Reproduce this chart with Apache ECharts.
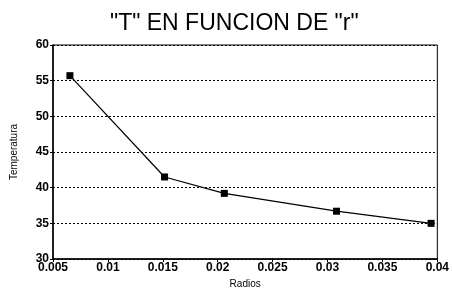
<!DOCTYPE html>
<html>
<head>
<meta charset="utf-8">
<script src="https://cdn.jsdelivr.net/npm/echarts@6/dist/echarts.min.js"></script>
<style>
  html, body { margin: 0; padding: 0; background: #fff; }
  #chart { width: 452px; height: 294px; }
</style>
</head>
<body>
<div id="chart"></div>
<script>
// datos
var radios = [0.00654, 0.01516, 0.0206, 0.03082, 0.03943];
var temperatura = [55.7, 41.5, 39.2, 36.7, 35.0];
var xTicks = [0.005, 0.01, 0.015, 0.02, 0.025, 0.03, 0.035, 0.04];
var yTicks = [30, 35, 40, 45, 50, 55, 60];

var chart = echarts.init(document.getElementById('chart'));
var font = 'Liberation Sans, Arial, sans-serif';

var points = radios.map(function (r, i) { return [r, temperatura[i]]; });

var option = {
  backgroundColor: '#fff',
  animation: false,
  title: {
    text: '"T" EN FUNCION DE "r"',
    left: 105,
    top: 7,
    textStyle: { fontFamily: font, fontSize: 23, fontWeight: 'normal', color: '#000' }
  },
  grid: {
    left: 53, right: 13, top: 45, bottom: 35,
    show: true, borderColor: '#000', borderWidth: 1
  },
  xAxis: {
    type: 'value',
    min: xTicks[0],
    max: xTicks[xTicks.length - 1],
    interval: 0.005,
    name: 'Radios',
    nameLocation: 'middle',
    nameGap: 18,
    nameTextStyle: { fontFamily: font, fontSize: 10, color: '#000' },
    axisLine: { show: true, lineStyle: { color: '#000', width: 1.5 } },
    axisTick: { show: true, length: 3, lineStyle: { color: '#000' } },
    axisLabel: {
      fontFamily: font, fontSize: 12, fontWeight: 'bold', color: '#000', margin: 3,
      formatter: function (v) { return String(+v.toFixed(3)); }
    },
    splitLine: { show: false }
  },
  yAxis: {
    type: 'value',
    min: yTicks[0],
    max: yTicks[yTicks.length - 1],
    interval: 5,
    name: 'Temperatura',
    nameLocation: 'middle',
    nameGap: 34,
    nameTextStyle: { fontFamily: font, fontSize: 10, color: '#000' },
    axisLine: { show: true, lineStyle: { color: '#000', width: 1.5 } },
    axisTick: { show: true, length: 3, lineStyle: { color: '#000' } },
    axisLabel: { fontFamily: font, fontSize: 12, fontWeight: 'bold', color: '#000', margin: 4 },
    splitLine: { show: true, lineStyle: { color: '#000', type: [2, 2], width: 1 } }
  },
  series: [{
    type: 'line',
    data: points,
    symbol: 'rect',
    symbolSize: 7,
    lineStyle: { color: '#000', width: 1.2 },
    itemStyle: { color: '#000' }
  }]
};

chart.setOption(option);
</script>
</body>
</html>
